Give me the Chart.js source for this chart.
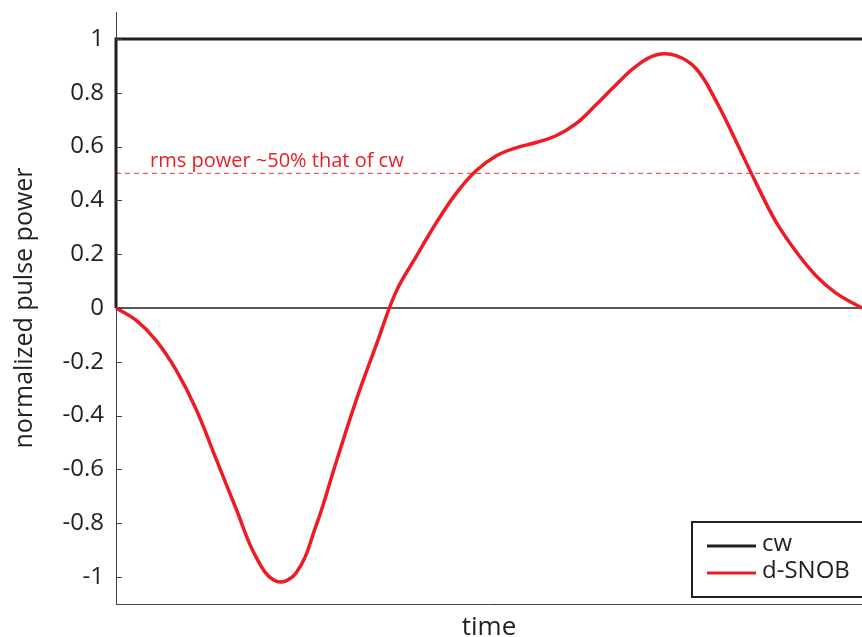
<!DOCTYPE html>
<html>
<head>
<meta charset="utf-8">
<script src="https://cdn.jsdelivr.net/npm/chart.js@4.4.1/dist/chart.umd.min.js"></script>
<style>
  html, body { margin: 0; padding: 0; background: #fff; }
  #wrap { width: 862px; height: 637px; position: relative; }
</style>
</head>
<body>
<div id="wrap"><canvas id="c" width="862" height="637"></canvas></div>
<script>
// Time samples (arbitrary units, pulse runs from 0 to 373)
const snobTime = [0, 10, 20, 30, 40, 50, 60, 70, 80, 90,
  100, 110, 120, 130, 140, 150, 160, 170, 180, 190,
  200, 210, 220, 230, 240, 250, 260, 270, 280, 290,
  300, 310, 320, 330, 340, 350, 360, 370, 373];
// d-SNOB normalized power
const snobPower = [0, -0.045, -0.12, -0.23, -0.375, -0.56, -0.745, -0.925, -1.015, -0.985,
  -0.81, -0.575, -0.345, -0.14, 0.06, 0.19, 0.315, 0.425, 0.51, 0.565,
  0.595, 0.615, 0.64, 0.685, 0.755, 0.83, 0.898, 0.94, 0.938, 0.89,
  0.77, 0.62, 0.465, 0.32, 0.21, 0.12, 0.055, 0.012, 0];
// Continuous-wave (rectangular) pulse
const cwTime = [0, 0, 373];
const cwPower = [0, 1, 1];
// RMS reference level of the shaped pulse
const rmsLevel = 0.5;
const rmsLabel = 'rms power ~50% that of cw';
// Y tick values
const yTicks = [1, 0.8, 0.6, 0.4, 0.2, 0, -0.2, -0.4, -0.6, -0.8, -1];

const FONT = '"Open Sans", sans-serif';
const INK = '#231f20';
const RED = '#ed1c24';
const DASH_RED = '#f25a60';

const toPts = (xs, ys) => xs.map((x, i) => ({ x, y: ys[i] }));

// inward tick marks on the y axis, rms annotation and boxed legend
const decor = {
  id: 'decor',
  afterDatasetsDraw(chart) {
    const { ctx, chartArea: a, scales: { y } } = chart;
    ctx.save();
    ctx.strokeStyle = '#444';
    ctx.lineWidth = 1;
    yTicks.forEach(v => {
      const py = Math.round(y.getPixelForValue(v)) + 0.5;
      ctx.beginPath();
      ctx.moveTo(a.left, py);
      ctx.lineTo(a.left + 6, py);
      ctx.stroke();
    });
    // annotation text above the rms line
    ctx.fillStyle = RED;
    ctx.font = '20px ' + FONT;
    ctx.textBaseline = 'alphabetic';
    ctx.textAlign = 'left';
    ctx.fillText(rmsLabel, a.left + 34, y.getPixelForValue(rmsLevel) - 6);

    // legend
    const items = chart.data.datasets.filter(d => d.label);
    const bx = 692, by = 522, bw = 172, bh = 75;
    ctx.fillStyle = '#fff';
    ctx.fillRect(bx, by, bw, bh);
    ctx.strokeStyle = INK;
    ctx.lineWidth = 2;
    ctx.strokeRect(bx, by, bw, bh);
    ctx.font = '24px ' + FONT;
    ctx.textBaseline = 'middle';
    items.forEach((d, i) => {
      const ly = by + 24 + i * 27;
      ctx.strokeStyle = d.borderColor;
      ctx.lineWidth = 3;
      ctx.beginPath();
      ctx.moveTo(bx + 15, ly);
      ctx.lineTo(bx + 64, ly);
      ctx.stroke();
      ctx.fillStyle = INK;
      ctx.fillText(d.label, bx + 70, ly - 2);
    });
    ctx.restore();
  }
};

new Chart(document.getElementById('c'), {
  type: 'scatter',
  data: {
    datasets: [
      {
        label: 'cw',
        data: toPts(cwTime, cwPower),
        showLine: true, borderColor: INK, borderWidth: 3,
        pointRadius: 0, tension: 0, order: 1, clip: 4
      },
      {
        label: 'd-SNOB',
        data: toPts(snobTime, snobPower),
        showLine: true, borderColor: RED, borderWidth: 3.5,
        pointRadius: 0, tension: 0.4,
        order: 0, clip: 4
      },
      {
        data: [{ x: 0, y: 0 }, { x: 373, y: 0 }],
        showLine: true, borderColor: INK, borderWidth: 1.3,
        pointRadius: 0, order: 2
      },
      {
        data: [{ x: 0, y: rmsLevel }, { x: 373, y: rmsLevel }],
        showLine: true, borderColor: DASH_RED, borderWidth: 1.2,
        borderDash: [5, 4], pointRadius: 0, order: 3
      }
    ]
  },
  options: {
    responsive: false,
    animation: false,
    devicePixelRatio: 1,
    layout: { padding: { top: 12, right: 0, left: 0, bottom: 0 } },
    plugins: { legend: { display: false }, tooltip: { enabled: false } },
    scales: {
      x: {
        type: 'linear', min: 0, max: 373,
        grid: { display: false, drawTicks: false },
        border: { color: '#444', width: 1 },
        ticks: { display: false },
        title: { display: true, text: 'time', color: INK, font: { family: FONT, size: 26, lineHeight: 1 }, padding: { top: 0, bottom: -4 } },
        afterFit(s) { s.height = 33; s.paddingLeft = 0; s.paddingRight = 0; }
      },
      y: {
        type: 'linear', min: -1.1, max: 1.1,
        grid: { display: false, drawTicks: false },
        border: { color: '#444', width: 1 },
        afterBuildTicks(s) { s.ticks = yTicks.map(v => ({ value: v })); },
        ticks: {
          color: INK, padding: 12, autoSkip: false,
          font: { family: FONT, size: 24 },
          callback: v => String(Math.round(v * 10) / 10)
        },
        title: { display: true, text: 'normalized pulse power', color: INK, font: { family: FONT, size: 25, lineHeight: 1 }, padding: { top: 12, bottom: 0 } },
        afterFit(s) { s.width = 116; s.paddingTop = 0; s.paddingBottom = 0; }
      }
    }
  },
  plugins: [decor]
});
</script>
</body>
</html>
